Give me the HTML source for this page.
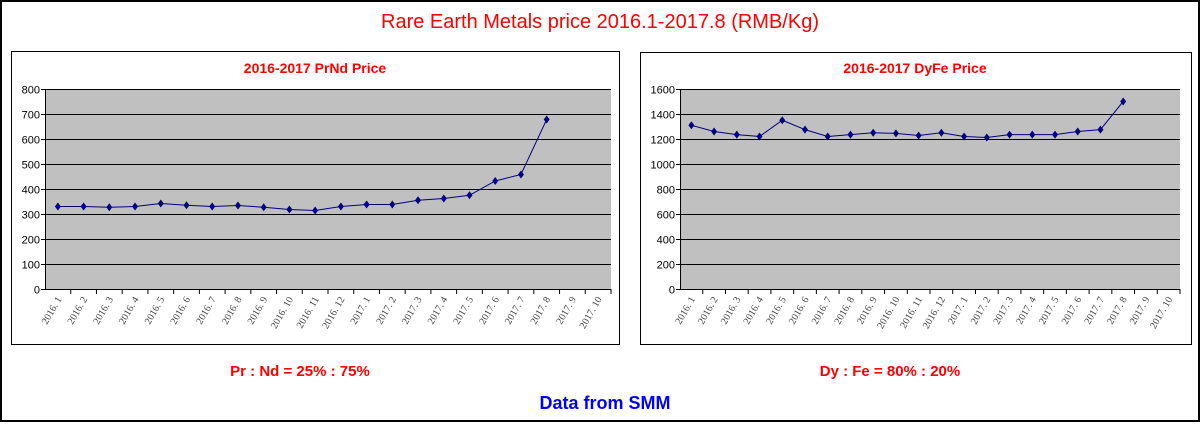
<!DOCTYPE html>
<html><head><meta charset="utf-8"><style>
body{margin:0;background:#fff;}
svg{display:block;font-family:"Liberation Sans",Arial,sans-serif;}
</style></head><body>
<svg id="s" width="1201" height="424" viewBox="0 0 1201 424">
<rect x="1" y="1" width="1198" height="420" fill="#fff" stroke="#000" stroke-width="2"/>
<text x="600" y="28" text-anchor="middle" font-size="20" fill="#ff0000">Rare Earth Metals price 2016.1-2017.8 (RMB/Kg)</text>
<rect x="11.5" y="51.5" width="608" height="293" fill="#fff" stroke="#000"/>
<rect x="640.5" y="52.5" width="551" height="292" fill="#fff" stroke="#000"/>
<text x="315" y="73" text-anchor="middle" font-size="14" font-weight="bold" fill="#ff0000">2016-2017  PrNd Price</text>
<text x="915" y="73" text-anchor="middle" font-size="14" font-weight="bold" fill="#ff0000">2016-2017  DyFe Price</text>
<text x="300" y="376" text-anchor="middle" font-size="15" font-weight="bold" fill="#ff0000">Pr : Nd = 25% : 75%</text>
<text x="890" y="376" text-anchor="middle" font-size="15" font-weight="bold" fill="#ff0000">Dy : Fe = 80% : 20%</text>
<text x="605" y="409" text-anchor="middle" font-size="18" font-weight="bold" fill="#0000ff">Data from SMM</text>
<g id="c1"></g><g id="c2"></g>
</svg>
<script>
const categories=["2016.1","2016.2","2016.3","2016.4","2016.5","2016.6","2016.7","2016.8","2016.9","2016.10","2016.11","2016.12","2017.1","2017.2","2017.3","2017.4","2017.5","2017.6","2017.7","2017.8","2017.9","2017.10"];
const prndValues=[330,330,327,330,342,335,330,334,327,318,314,330,338,338,355,362,375,432,458,678];
const dyfeValues=[1310,1260,1235,1220,1350,1275,1220,1235,1250,1245,1228,1250,1220,1212,1235,1235,1235,1260,1275,1500];
const prndTicks=[0,100,200,300,400,500,600,700,800];
const dyfeTicks=[0,200,400,600,800,1000,1200,1400,1600];
const NS="http://www.w3.org/2000/svg";
function mk(p,t,a){const e=document.createElementNS(NS,t);for(const k in a)e.setAttribute(k,a[k]);p.appendChild(e);return e;}
function draw(g,x0,x1,y0,y1,ticks,vals,nm){
  const max=ticks[ticks.length-1];
  const X=i=>x0+(i+0.5)*(x1-x0)/categories.length;
  const Y=v=>y1-(v/max)*(y1-y0);
  const bg=mk(g,'rect',{x:x0,y:y0,width:x1-x0,height:y1-y0,fill:'#c0c0c0'});
  
  
  ticks.forEach(t=>{
    const yy=Math.round(Y(t))+0.5;
    if(t>0){const l=mk(g,'line',{x1:x0,x2:x1,y1:yy,y2:yy,stroke:'#000','stroke-width':1});
    
    }
    mk(g,'line',{x1:x0-4,x2:x0,y1:yy,y2:yy,stroke:'#000'});
    const tx=mk(g,'text',{x:x0-5,y:yy+4,'text-anchor':'end','font-size':11,fill:'#000'});
    tx.textContent=t;
    
    
  });
  mk(g,'line',{x1:x0+0.5,x2:x0+0.5,y1:y0,y2:y1,stroke:'#000'});
  mk(g,'line',{x1:x0,x2:x1,y1:y1+0.5,y2:y1+0.5,stroke:'#000'});
  categories.forEach((c,i)=>{
    const bx=x0+(i+1)*(x1-x0)/categories.length;
    mk(g,'line',{x1:bx,x2:bx,y1:y1,y2:y1+5,stroke:'#000'});
    const cx=X(i)+4;
    const tx=mk(g,'text',{x:cx,y:y1+10,'text-anchor':'end','font-size':10,fill:'#444','font-family':'"Liberation Serif",serif',transform:`rotate(-60 ${cx} ${y1+10})`});
    tx.textContent=c.replace('.','. ');
    
    
  });
  const pts=vals.map((v,i)=>X(i)+','+Y(v)).join(' ');
  const pl=mk(g,'polyline',{points:pts,fill:'none',stroke:'#000080','stroke-width':1});
  
  
  vals.forEach((v,i)=>{
    const x=X(i),y=Y(v);
    const p=mk(g,'polygon',{points:`${x},${y-4} ${x+3},${y} ${x},${y+4} ${x-3},${y}`,fill:'#000080'});
    
    
  });
}
draw(document.getElementById('c1'),45,611,89,289,prndTicks,prndValues,'prnd');
draw(document.getElementById('c2'),680,1180,89,289,dyfeTicks,dyfeValues,'dyfe');
</script>
</body></html>
